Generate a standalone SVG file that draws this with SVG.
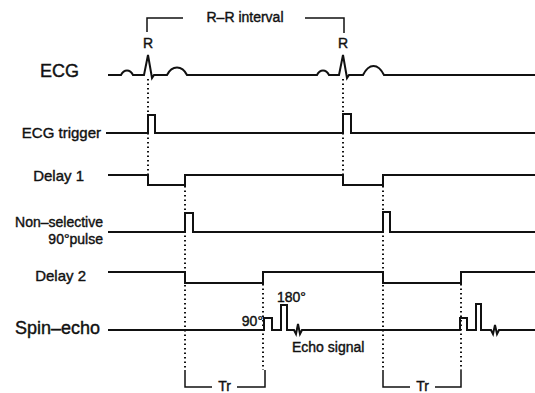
<svg xmlns="http://www.w3.org/2000/svg" width="535" height="393" viewBox="0 0 535 393">
<style>
.w{fill:none;stroke:#111;stroke-width:2;stroke-linejoin:miter}
.b{fill:none;stroke:#111;stroke-width:1.5}
.d{fill:none;stroke:#111;stroke-width:2;stroke-dasharray:1.5 3}
text{font-family:"Liberation Sans",Arial,sans-serif;fill:#111;stroke:#111;stroke-width:0.4}
.l{font-size:15px;text-anchor:end}
.big{font-size:18px;text-anchor:end}
.s{font-size:14px}
</style>
<rect width="535" height="393" fill="#fff"/>
<g id="connectors">
<path class="d" d="M148,79V185 M343,79V185 M185,186V370 M383,186V370 M263,284V370 M461,284V370"/>
<path class="b" d="M147,32V18H183 M305,18H344V33"/>
<path class="b" d="M185,370V387H212 M237,387H265V370 M383,370V387H410 M435,387H461V370"/>
</g>
<g id="rr-label"><text class="s" x="245" y="22" text-anchor="middle">R–R interval</text></g>
<g id="r1"><text class="s" x="148" y="48" text-anchor="middle">R</text></g>
<g id="r2"><text class="s" x="343" y="48" text-anchor="middle">R</text></g>
<g id="ecg">
<text class="big" x="79" y="77">ECG</text>
<path class="w" d="M108,75H121C124,69 130,69 133,75H144L148,55L152,78L154,75H167C172,65 182,65 187,75H317C320,69 326,69 329,75H339L343,55L347,78L349,75H363C369,63 378,63 384,75H535"/>
</g>
<g id="ecg-trigger">
<text class="l" x="101" y="138">ECG trigger</text>
<path class="w" d="M106,133H148V115H155V133H343V114H351V133H535"/>
</g>
<g id="delay1">
<text class="l" x="84" y="181">Delay 1</text>
<path class="w" d="M108,175H148V185H185V175H343V185H383V175H535"/>
</g>
<g id="pulse90">
<text class="s" x="103" y="227" text-anchor="end">Non–selective</text>
<text class="s" x="103" y="244" text-anchor="end">90°pulse</text>
<path class="w" d="M108,232H185V213H193V232H383V212H390V232H535"/>
</g>
<g id="delay2">
<text class="l" x="86" y="281">Delay 2</text>
<path class="w" d="M108,272H185V283H263V272H383V283H461V272H535"/>
</g>
<g id="spin-echo">
<text class="big" x="100" y="334">Spin–echo</text>
<path class="w" d="M108,330H264V318H272V330H281V305H287V330H294L296,334L298,324L300,334L302,330H460V318H467V330H476V304H481V330H491L493,334L495,325L497,334L499,330H535"/>
<text class="s" x="263" y="326" text-anchor="end">90°</text>
<text class="s" x="277" y="302">180°</text>
<text class="s" x="292" y="352">Echo signal</text>
</g>
<g id="tr1"><text class="s" x="224.5" y="391" text-anchor="middle">Tr</text></g>
<g id="tr2"><text class="s" x="422.5" y="391" text-anchor="middle">Tr</text></g>
</svg>
